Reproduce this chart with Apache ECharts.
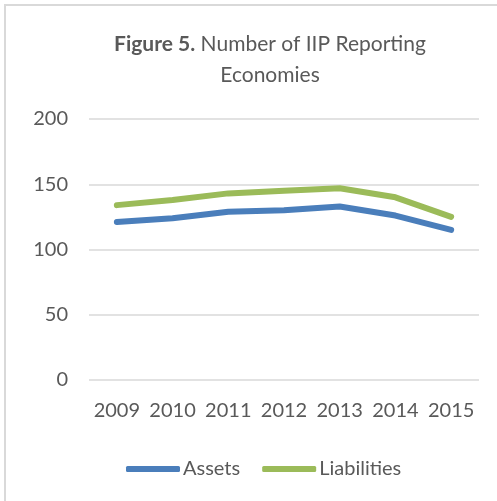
<!DOCTYPE html>
<html>
<head>
<meta charset="utf-8">
<script src="https://cdn.jsdelivr.net/npm/echarts@6/dist/echarts.min.js"></script>
<style>html,body{margin:0;padding:0;background:#fff;}#c{width:497px;height:501px;}</style>
</head>
<body>
<div id="c"></div>
<script>
const years = ['2009','2010','2011','2012','2013','2014','2015'];
const assets = [121, 124, 129, 130, 133, 126, 115];
const liabilities = [134, 138, 143, 145, 147, 140, 125];
const yTicks = {min: 0, max: 200, interval: 50};

const FONT = 'Lato';
const TXT = '#595959';
const chart = echarts.init(document.getElementById('c'), null, {renderer: 'canvas'});
chart.setOption({
  backgroundColor: '#fff',
  animation: false,
  graphic: [{
    type: 'rect', shape: {x: 5, y: 5, width: 600, height: 600},
    style: {fill: 'none', stroke: '#d9d9d9', lineWidth: 2}, silent: true
  }],
  title: {
    left: 265, top: 24, textAlign: 'center',
    text: '{b|Figure 5.} {n|Number of IIP Reporting}\n{n|Economies}',
    textStyle: {
      fontFamily: FONT, fontWeight: 'normal', fontSize: 21, color: TXT,
      rich: {
        b: {fontFamily: FONT, fontWeight: 'bold', fontSize: 21, color: TXT, lineHeight: 31},
        n: {fontFamily: FONT, fontWeight: 'normal', fontSize: 21, color: TXT, lineHeight: 31}
      }
    }
  },
  legend: {
    bottom: 17, left: 121,
    icon: 'roundRect', itemWidth: 54, itemHeight: 6, itemGap: 22,
    textStyle: {fontFamily: FONT, fontSize: 20, color: TXT, padding: [0, 0, 0, -2]},
    data: ['Assets', 'Liabilities']
  },
  grid: {left: 89, right: 18, top: 119, bottom: 121},
  xAxis: {
    type: 'category', data: years, boundaryGap: true,
    axisLine: {show: false}, axisTick: {show: false},
    axisLabel: {fontFamily: FONT, fontSize: 20, color: TXT, margin: 21, interval: 0, hideOverlap: false}
  },
  yAxis: {
    type: 'value', min: yTicks.min, max: yTicks.max, interval: yTicks.interval,
    axisLine: {show: false}, axisTick: {show: false},
    splitLine: {lineStyle: {color: '#d9d9d9', width: 1.5}},
    axisLabel: {fontFamily: FONT, fontSize: 20, color: TXT, margin: 21}
  },
  series: [
    {name: 'Assets', type: 'line', data: assets, symbol: 'none',
     itemStyle: {color: '#4a7ebb'},
     lineStyle: {color: '#4a7ebb', width: 6, cap: 'round', join: 'round'}},
    {name: 'Liabilities', type: 'line', data: liabilities, symbol: 'none',
     itemStyle: {color: '#9bbb59'},
     lineStyle: {color: '#9bbb59', width: 6, cap: 'round', join: 'round'}}
  ]
});
</script>
</body>
</html>
